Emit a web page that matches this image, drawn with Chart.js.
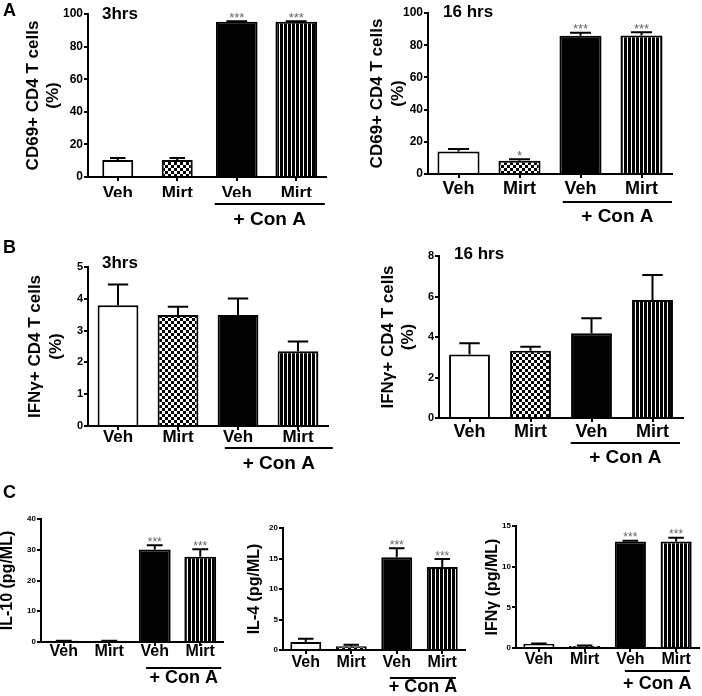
<!DOCTYPE html>
<html>
<head>
<meta charset="utf-8">
<script src="https://cdn.jsdelivr.net/npm/chart.js@4.4.1/dist/chart.umd.min.js"></script>
<style>
  html, body { margin: 0; padding: 0; background: #fff; }
  #wrap { position: relative; width: 702px; height: 696px; }
  #wrap canvas { position: absolute; left: 0; top: 0; }
</style>
</head>
<body>
<div id="wrap"></div>
<script>
// groups on the x axis (last two are the + Con A ones)
const groups = ['Veh', 'Mirt', 'Veh', 'Mirt'];
const conA = '+ Con A';

// A: CD69+ CD4 T cells (%)
const cd69_3h = [10.4, 10.4, 95.2, 95.2];
const cd69_3h_err = [11.7, 11.6, 95.6, 95.6];
const cd69_3h_sig = ['', '', '***', '***'];
const cd69_16h = [13.9, 8.2, 85.9, 86.0];
const cd69_16h_err = [15.5, 9.2, 87.7, 88.0];
const cd69_16h_sig = ['', '*', '***', '***'];

// B: IFNg+ CD4 T cells (%)
const ifn_3h = [3.8, 3.49, 3.49, 2.35];
const ifn_3h_err = [4.45, 3.75, 4.01, 2.66];
const ifn_16h = [3.14, 3.32, 4.18, 5.83];
const ifn_16h_err = [3.69, 3.52, 4.93, 7.06];

// C: cytokines (pg/ML)
const il10 = [0.4, 0.4, 30.1, 27.7];
const il10_err = [0.4, 0.4, 31.5, 30.2];
const il4 = [1.3, 0.6, 15.2, 13.6];
const il4_err = [1.85, 0.85, 16.7, 14.9];
const ifnC = [0.5, 0.25, 13.1, 13.1];
const ifnC_err = [0.55, 0.3, 13.2, 13.55];
const cSig = ['', '', '***', '***'];
const noSig = ['', '', '', ''];

const FONT = "'Liberation Sans', Arial, Helvetica, sans-serif";

function pattern(kind) {
  const c = document.createElement('canvas');
  const g = c.getContext('2d');
  if (kind === 'check') {
    c.width = 6; c.height = 6;
    g.fillStyle = '#fff'; g.fillRect(0, 0, 6, 6);
    g.fillStyle = '#000'; g.fillRect(0, 0, 3, 3); g.fillRect(3, 3, 3, 3);
  } else {
    c.width = 4; c.height = 4;
    g.fillStyle = '#000'; g.fillRect(0, 0, 4, 4);
    g.fillStyle = '#fff'; g.fillRect(3, 0, 1, 4);
  }
  return g.createPattern(c, 'repeat');
}
const fills = ['#ffffff', pattern('check'), '#000000', pattern('stripe')];

// error bars, stars, bracket, titles
const annot = {
  id: 'annot',
  afterDatasetsDraw(chart) {
    const a = chart.options.plugins.annot;
    const ctx = chart.ctx, xs = chart.scales.x, ys = chart.scales.y, area = chart.chartArea;
    ctx.save();
    ctx.strokeStyle = '#000';
    ctx.lineWidth = 2;
    chart.data.datasets.forEach((ds, di) => {
      chart.getDatasetMeta(di).data.forEach((bar, i) => {
        if (ds.data[i] == null) return;
        const top = ys.getPixelForValue(a.err[i]);
        const half = bar.width / 4;
        ctx.beginPath();
        ctx.moveTo(bar.x, bar.y);
        ctx.lineTo(bar.x, top);
        ctx.moveTo(bar.x - half, top);
        ctx.lineTo(bar.x + half, top);
        ctx.stroke();
        if (a.sig[i]) {
          ctx.fillStyle = '#666';
          ctx.font = a.sigFs + 'px ' + FONT;
          ctx.textAlign = 'center';
          ctx.textBaseline = 'alphabetic';
          ctx.fillText(a.sig[i], bar.x, top + 0.5);
        }
      });
    });
    // + Con A bracket
    const step = xs.getPixelForValue(1) - xs.getPixelForValue(0);
    const x0 = xs.getPixelForValue(0) + a.br[0] * step;
    const x1 = xs.getPixelForValue(0) + a.br[1] * step;
    const by = area.bottom + a.brY;
    ctx.beginPath();
    ctx.moveTo(x0, by);
    ctx.lineTo(x1, by);
    ctx.stroke();
    ctx.fillStyle = '#000';
    ctx.font = 'bold ' + a.conFs + 'px ' + FONT;
    ctx.textAlign = 'center';
    ctx.textBaseline = 'middle';
    ctx.fillText(conA, (x0 + x1) / 2, by + a.brT);
    if (a.title) {
      ctx.font = 'bold 17px ' + FONT;
      ctx.textAlign = 'left';
      ctx.fillText(a.title, area.left + a.tdx, area.top + a.tdy);
    }
    if (a.letter) {
      ctx.font = 'bold 18px ' + FONT;
      ctx.textAlign = 'left';
      ctx.fillText(a.letter, 3, a.ly);
    }
    ctx.restore();
  }
};

function panel(o) {
  const cv = document.createElement('canvas');
  cv.width = 702; cv.height = 696;
  document.getElementById('wrap').appendChild(cv);
  const titleLeft = o.ytx - o.lh / 2;
  const xh = 20;
  const lineH = 1.2 * o.xfs;
  new Chart(cv, {
    type: 'bar',
    data: {
      labels: groups,
      datasets: [
        { data: o.values.map((v, i) => i < 2 ? v : null), barPercentage: o.bw[0] },
        { data: o.values.map((v, i) => i >= 2 ? v : null), barPercentage: o.bw[1] }
      ].map(d => Object.assign(d, {
        grouped: false,
        categoryPercentage: 1,
        backgroundColor: fills,
        borderColor: '#000',
        borderWidth: 2
      }))
    },
    options: {
      responsive: false,
      animation: false,
      events: [],
      layout: { padding: { left: titleLeft, top: o.t, right: 702 - o.r, bottom: 696 - o.b - xh } },
      plugins: {
        legend: { display: false },
        tooltip: { enabled: false },
        annot: {
          err: o.err, sig: o.sig, sigFs: o.sigFs || 13,
          br: o.br, brY: o.brY, brT: o.brT, conFs: o.conFs || 19,
          title: o.title, tdx: o.tdx, tdy: o.tdy, letter: o.letter, ly: o.ly
        }
      },
      scales: {
        x: {
          offset: true,
          grid: { display: true, drawOnChartArea: false, drawTicks: true, tickLength: 4, offset: false, color: '#000', lineWidth: 2 },
          border: { display: true, color: '#000', width: 2 },
          ticks: {
            color: '#000', autoSkip: false, maxRotation: 0,
            padding: o.xoff - 4 - lineH / 2,
            font: { family: FONT, size: o.xfs, weight: 'bold', lineHeight: 1.2 }
          },
          afterFit: s => { s.height = xh; }
        },
        y: {
          min: 0, max: o.max,
          grid: { display: true, drawOnChartArea: false, drawTicks: true, tickLength: 4, color: '#000', lineWidth: 2 },
          border: { display: true, color: '#000', width: 2 },
          ticks: { stepSize: o.step, color: '#000', padding: 1, font: { family: FONT, size: o.yfs, weight: 'bold' } },
          title: {
            display: true, text: o.ytitle, color: '#000', padding: 0,
            font: { family: FONT, size: o.tfs, weight: 'bold', lineHeight: o.lh + 'px' }
          },
          afterFit: s => { s.width = o.l - titleLeft; }
        }
      }
    },
    plugins: [annot]
  });
}

panel({ values: cd69_3h, err: cd69_3h_err, sig: cd69_3h_sig,
  l: 88, t: 14, r: 326, b: 177, max: 100, step: 20, yfs: 12,
  ytitle: ['CD69+ CD4 T cells', '(%)'], ytx: 33, lh: 20, tfs: 17,
  xfs: 17, xoff: 16, bw: [0.52, 0.7], br: [1.63, 3.48], brY: 27, brT: 15.5,
  title: '3hrs', tdx: 14, tdy: 0, letter: 'A', ly: 11 });

panel({ values: cd69_16h, err: cd69_16h_err, sig: cd69_16h_sig,
  l: 428, t: 13, r: 672, b: 174, max: 100, step: 20, yfs: 12,
  ytitle: ['CD69+ CD4 T cells', '(%)'], ytx: 377, lh: 21, tfs: 17,
  xfs: 18, xoff: 15.5, bw: [0.69, 0.69], br: [1.71, 3.5], brY: 28, brT: 15,
  title: '16 hrs', tdx: 15, tdy: -1 });

panel({ values: ifn_3h, err: ifn_3h_err, sig: noSig,
  l: 88, t: 267, r: 328, b: 426, max: 5, step: 1, yfs: 11,
  ytitle: ['IFNγ+ CD4 T cells', '(%)'], ytx: 35, lh: 21, tfs: 17,
  xfs: 17, xoff: 11, bw: [0.68, 0.68], br: [1.78, 3.58], brY: 22, brT: 15.5,
  title: '3hrs', tdx: 14, tdy: -4, letter: 'B', ly: 248 });

panel({ values: ifn_16h, err: ifn_16h_err, sig: noSig,
  l: 439, t: 256, r: 683, b: 418, max: 8, step: 2, yfs: 11,
  ytitle: ['IFNγ+ CD4 T cells', '(%)'], ytx: 388, lh: 20, tfs: 17,
  xfs: 18, xoff: 14, bw: [0.67, 0.67], br: [1.66, 3.45], brY: 25, brT: 15,
  title: '16 hrs', tdx: 15, tdy: -2 });

panel({ values: il10, err: il10_err, sig: cSig, sigFs: 12,
  l: 41, t: 519, r: 223, b: 642, max: 40, step: 10, yfs: 8,
  ytitle: 'IL-10 (pg/ML)', ytx: 8, lh: 16, tfs: 16,
  xfs: 16, xoff: 10, bw: [0.7, 0.7], br: [1.81, 3.46], brY: 26, brT: 10, conFs: 18,
  letter: 'C', ly: 493 });

panel({ values: il4, err: il4_err, sig: cSig, sigFs: 12,
  l: 283, t: 528, r: 465, b: 650, max: 20, step: 5, yfs: 8,
  ytitle: 'IL-4 (pg/ML)', ytx: 255, lh: 16, tfs: 16,
  xfs: 16, xoff: 13, bw: [0.68, 0.68], br: [1.85, 3.3], brY: 28, brT: 9, conFs: 18 });

panel({ values: ifnC, err: ifnC_err, sig: cSig, sigFs: 12,
  l: 516, t: 526, r: 699, b: 648, max: 15, step: 5, yfs: 8,
  ytitle: 'IFNγ (pg/ML)', ytx: 493, lh: 16, tfs: 16,
  xfs: 16, xoff: 12, bw: [0.68, 0.68], br: [1.88, 3.3], brY: 23, brT: 13, conFs: 18 });
</script>
</body>
</html>
